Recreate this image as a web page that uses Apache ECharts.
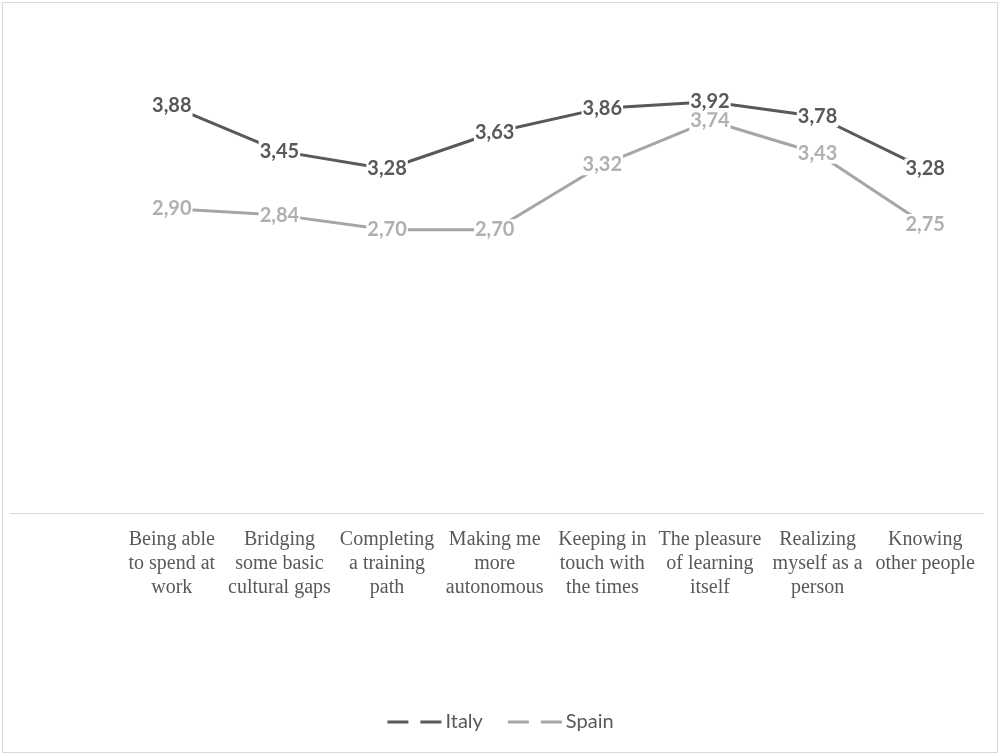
<!DOCTYPE html>
<html>
<head>
<meta charset="utf-8">
<script src="https://cdn.jsdelivr.net/npm/echarts@6/dist/echarts.min.js"></script>
<style>
  html, body { margin: 0; padding: 0; background: #fff; }
  #chart { width: 1001px; height: 756px; }
</style>
</head>
<body>
<div id="chart"></div>
<script>
// Reasons for taking part in training, mean scores by country
const categories = [
  'Being able\nto spend at\nwork',
  'Bridging\nsome basic\ncultural gaps',
  'Completing\na training\npath',
  'Making me\nmore\nautonomous',
  'Keeping in\ntouch with\nthe times',
  'The pleasure\nof learning\nitself',
  'Realizing\nmyself as a\nperson',
  'Knowing\nother people'
];
const italy = [3.88, 3.45, 3.28, 3.63, 3.86, 3.92, 3.78, 3.28];
const spain = [2.90, 2.84, 2.70, 2.70, 3.32, 3.74, 3.43, 2.75];

const ITALY_COLOR = '#595959';
const SPAIN_COLOR = '#a6a6a6';

const chart = echarts.init(document.getElementById('chart'), null, { renderer: 'canvas' });

const fmt = p => p.value.toFixed(2).replace('.', ',');

function lineSeries(name, data, color, labelColor, z) {
  return {
    name: name,
    type: 'line',
    data: data,
    z: z,
    symbol: 'circle',
    symbolSize: 2,
    itemStyle: { color: color },
    lineStyle: { color: color, width: 3 },
    label: {
      show: true,
      position: 'inside',
      formatter: fmt,
      color: labelColor,
      fontFamily: 'Lato',
      fontWeight: 'bold',
      fontSize: 20,
      backgroundColor: '#fff',
      padding: [1, 1, 0, 1]
    },
    emphasis: { disabled: true },
    animation: false
  };
}

chart.setOption({
  backgroundColor: '#fff',
  animation: false,
  grid: { left: 118, right: 22, top: 41, bottom: 243, containLabel: false },
  xAxis: {
    type: 'category',
    data: categories,
    boundaryGap: true,
    axisLine: { show: false },
    axisTick: { show: false },
    splitLine: { show: false },
    axisLabel: {
      interval: 0,
      margin: 15,
      color: '#595959',
      fontFamily: 'Liberation Serif',
      fontSize: 20,
      lineHeight: 24,
      align: 'center'
    }
  },
  yAxis: {
    type: 'value',
    min: 0,
    max: 4.5,
    interval: 0.5,
    show: false,
    splitLine: { show: false }
  },
  legend: {
    data: ['Italy', 'Spain'],
    left: 'center',
    top: 706,
    itemGap: 25,
    itemWidth: 54,
    itemHeight: 3,
    icon: 'path://M0,0h21v3h-21z M33,0h21v3h-21z',
    textStyle: {
      color: '#595959',
      fontFamily: 'Lato',
      fontSize: 20,
      lineHeight: 22,
      padding: [0, 0, 0, -1]
    }
  },
  graphic: [
    {
      type: 'rect',
      shape: { x: 2.5, y: 2.5, width: 995, height: 750 },
      style: { fill: 'none', stroke: '#d9d9d9', lineWidth: 1 },
      silent: true
    },
    {
      type: 'line',
      shape: { x1: 10, y1: 513.5, x2: 984, y2: 513.5 },
      style: { stroke: '#d9d9d9', lineWidth: 1 },
      silent: true
    }
  ],
  series: [
    lineSeries('Spain', spain, SPAIN_COLOR, '#b0b0b0', 2),
    lineSeries('Italy', italy, ITALY_COLOR, ITALY_COLOR, 3)
  ]
});
</script>
</body>
</html>
